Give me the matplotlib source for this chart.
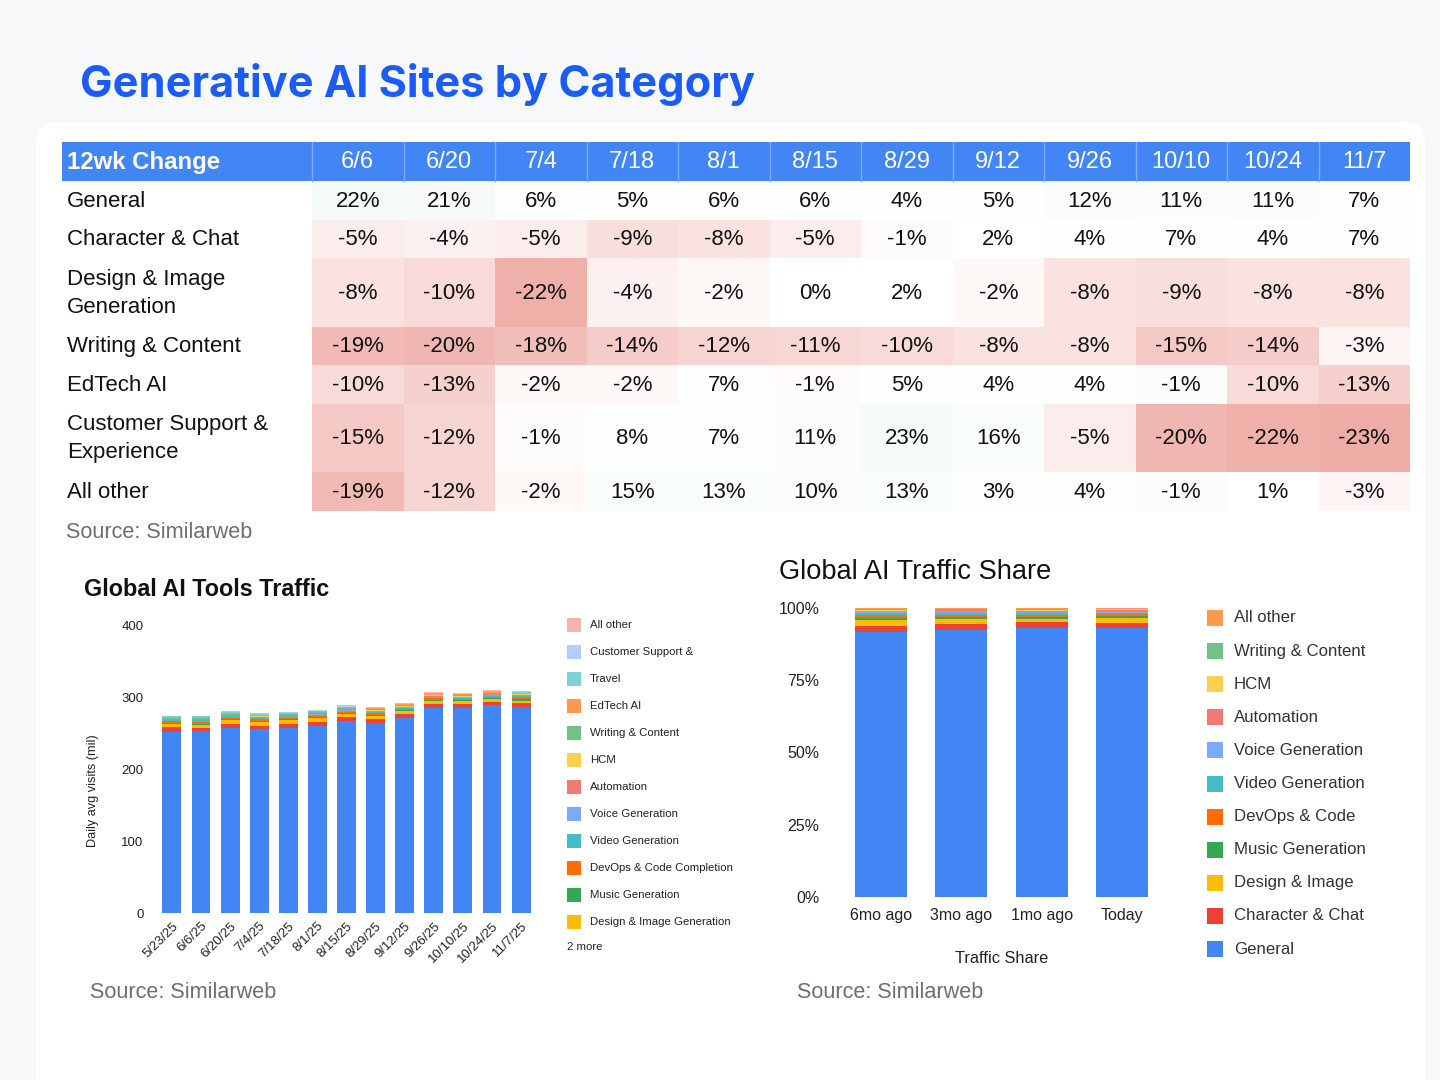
import matplotlib
matplotlib.use('Agg')
import matplotlib.pyplot as plt
from matplotlib.patches import Rectangle, FancyBboxPatch
import numpy as np

plt.rcParams['font.family'] = ['Liberation Sans', 'DejaVu Sans']

# ---------------- Data ----------------
table_dates = ['6/6', '6/20', '7/4', '7/18', '8/1', '8/15', '8/29', '9/12', '9/26', '10/10', '10/24', '11/7']
table_labels = ['General', 'Character & Chat', 'Design & Image\nGeneration', 'Writing & Content',
                'EdTech AI', 'Customer Support &\nExperience', 'All other']
chg_general = [22, 21, 6, 5, 6, 6, 4, 5, 12, 11, 11, 7]
chg_character = [-5, -4, -5, -9, -8, -5, -1, 2, 4, 7, 4, 7]
chg_design = [-8, -10, -22, -4, -2, 0, 2, -2, -8, -9, -8, -8]
chg_writing = [-19, -20, -18, -14, -12, -11, -10, -8, -8, -15, -14, -3]
chg_edtech = [-10, -13, -2, -2, 7, -1, 5, 4, 4, -1, -10, -13]
chg_customer = [-15, -12, -1, 8, 7, 11, 23, 16, -5, -20, -22, -23]
chg_other = [-19, -12, -2, 15, 13, 10, 13, 3, 4, -1, 1, -3]
table_values = [chg_general, chg_character, chg_design, chg_writing, chg_edtech, chg_customer, chg_other]

traffic_dates = ['5/23/25', '6/6/25', '6/20/25', '7/4/25', '7/18/25', '8/1/25', '8/15/25',
                 '8/29/25', '9/12/25', '9/26/25', '10/10/25', '10/24/25', '11/7/25']
tr_general = [252, 253, 257, 255, 257, 260, 266, 264, 271, 285, 285, 289, 286]
tr_character = [6.0, 4.5, 6.0, 4.5, 6.0, 5.5, 6.0, 6.0, 5.5, 5.0, 5.0, 4.0, 5.0]
tr_design = [4.5, 4.0, 4.5, 5.5, 5.0, 5.0, 4.0, 4.0, 4.0, 4.0, 4.0, 4.0, 4.0]
tr_music = [1.5, 1.5, 2.0, 1.5, 1.5, 1.5, 1.5, 1.5, 1.5, 1.5, 1.5, 2.0, 2.5]
tr_devops = [2.0, 2.0, 2.0, 2.5, 2.0, 2.0, 2.0, 2.0, 1.5, 2.5, 2.0, 1.5, 2.0]
tr_video = [1.5, 2.5, 1.5, 1.5, 1.5, 1.5, 1.5, 1.5, 1.5, 1.5, 1.0, 1.5, 1.5]
tr_voice = [1.0, 1.0, 1.0, 1.0, 1.0, 1.0, 1.0, 1.0, 1.0, 1.0, 1.0, 1.0, 1.0]
tr_automation = [0.8, 0.8, 0.8, 0.8, 0.8, 0.8, 0.8, 0.8, 0.8, 0.8, 0.8, 0.8, 0.8]
tr_hcm = [0.8, 0.8, 0.8, 0.8, 0.8, 0.8, 0.8, 0.8, 0.8, 0.8, 0.8, 0.8, 0.8]
tr_writing = [1.2, 1.2, 1.2, 1.2, 1.0, 1.2, 1.2, 1.2, 1.0, 1.2, 1.2, 1.2, 1.2]
tr_edtech = [1.2, 1.2, 1.5, 1.2, 1.0, 1.2, 1.5, 1.5, 1.0, 1.5, 1.5, 1.5, 1.2]
tr_travel = [0.5, 0.5, 0.5, 0.5, 0.5, 0.5, 0.5, 0.5, 0.5, 0.5, 0.5, 0.5, 0.5]
tr_customer = [0.4, 0.4, 0.4, 0.4, 0.4, 0.4, 0.4, 0.4, 0.4, 0.4, 0.4, 0.4, 0.4]
tr_other = [0.8, 0.8, 1.2, 0.8, 0.8, 0.8, 1.2, 1.2, 0.8, 1.5, 1.0, 1.5, 1.5]
traffic_names = ['General', 'Character & Chat', 'Design & Image Generation', 'Music Generation',
                 'DevOps & Code Completion', 'Video Generation', 'Voice Generation', 'Automation',
                 'HCM', 'Writing & Content', 'EdTech AI', 'Travel', 'Customer Support &', 'All other']
traffic_series = [tr_general, tr_character, tr_design, tr_music, tr_devops, tr_video, tr_voice,
                  tr_automation, tr_hcm, tr_writing, tr_edtech, tr_travel, tr_customer, tr_other]

share_periods = ['6mo ago', '3mo ago', '1mo ago', 'Today']
sh_general = [91.6, 92.5, 93.1, 93.1]
sh_character = [2.3, 1.8, 1.9, 1.8]
sh_design = [1.8, 1.9, 1.2, 1.6]
sh_music = [0.9, 0.6, 0.8, 0.8]
sh_devops = [0.9, 0.8, 0.7, 0.7]
sh_video = [0.8, 0.8, 0.5, 0.4]
sh_voice = [0.5, 0.5, 0.4, 0.4]
sh_automation = [0.3, 0.3, 0.4, 0.4]
sh_hcm = [0.3, 0.2, 0.3, 0.3]
sh_writing = [0.3, 0.3, 0.4, 0.3]
sh_other = [0.3, 0.3, 0.3, 0.2]
share_names = ['General', 'Character & Chat', 'Design & Image', 'Music Generation', 'DevOps & Code',
               'Video Generation', 'Voice Generation', 'Automation', 'HCM', 'Writing & Content', 'All other']
share_series = [sh_general, sh_character, sh_design, sh_music, sh_devops, sh_video, sh_voice,
                sh_automation, sh_hcm, sh_writing, sh_other]

palette = ['#4285F4', '#EA4335', '#FBBC04', '#34A853', '#FF6D01', '#46BDC6', '#7BAAF7',
           '#F07B72', '#FCD04F', '#71C287', '#FF994D', '#7ED1D7', '#B3CEFB', '#F7B4AE']

# ---------------- Figure ----------------
W, H = 1440, 1080
fig = plt.figure(figsize=(14.4, 10.8), dpi=100)
fig.patch.set_facecolor('#f7f8fa')

bg = fig.add_axes([0, 0, 1, 1], zorder=0)
bg.set_xlim(0, W)
bg.set_ylim(H, 0)
bg.axis('off')

bg.add_patch(FancyBboxPatch((36, 122), 1425 - 36, 1100 - 122,
                            boxstyle='round,pad=0,rounding_size=22',
                            facecolor='white', edgecolor='none'))

bg.text(80, 84, 'Generative AI Sites by Category', fontsize=31.2, fontweight='bold',
        color='#1a5cf5', va='center', ha='left', family=['Inter', 'DejaVu Sans'])

# ---------------- Table ----------------
tx0, tx1 = 62, 1410
first_w = 250
col_w = (tx1 - tx0 - first_w) / len(table_dates)
head_top, head_h = 142, 39
single_h, double_h = 38.5, 68.5


def cell_color(v):
    if v < 0:
        t = min(-v / 23.0, 1.0)
        end = np.array([238, 172, 166]) / 255
    else:
        t = min(v / 23.0, 1.0)
        end = np.array([245, 251, 248]) / 255
    return tuple(np.ones(3) * (1 - t) + end * t)


# header
bg.add_patch(Rectangle((tx0, head_top), tx1 - tx0, head_h, facecolor='#4285F4', edgecolor='none'))
bg.text(tx0 + 5, head_top + head_h / 2 + 1, '12wk Change', fontsize=17.3, fontweight='bold',
        color='white', va='center', ha='left')
for j, d in enumerate(table_dates):
    x = tx0 + first_w + j * col_w
    bg.plot([x, x], [head_top, head_top + head_h], color='#7eaaf7', lw=1)
    bg.text(x + col_w / 2, head_top + head_h / 2 + 1, d, fontsize=17, color='white',
            va='center', ha='center')

y = head_top + head_h
for label, vals in zip(table_labels, table_values):
    h = double_h if '\n' in label else single_h
    bg.text(tx0 + 5, y + h / 2 + 1, label, fontsize=16, color='#111111', va='center',
            ha='left', linespacing=1.45)
    for j, v in enumerate(vals):
        x = tx0 + first_w + j * col_w
        bg.add_patch(Rectangle((x, y), col_w, h, facecolor=cell_color(v), edgecolor='none'))
        bg.text(x + col_w / 2, y + h / 2 + 1, f'{v}%', fontsize=16, color='#111111',
                va='center', ha='center')
    y += h

bg.text(66, 532, 'Source: Similarweb', fontsize=15.6, color='#6e6e6e', va='center', ha='left')

# ---------------- Left chart ----------------
ax1 = fig.add_axes([154.5 / W, 1 - 913 / H, 384 / W, 288 / H], zorder=2)
ax1.patch.set_alpha(0)
xi = np.arange(len(traffic_dates))
bottom = np.zeros(len(traffic_dates))
for vals, col in zip(traffic_series, palette):
    ax1.bar(xi, vals, 0.65, bottom=bottom, color=col, edgecolor='none')
    bottom += np.array(vals)
ax1.set_xlim(-0.6, len(traffic_dates) - 0.4)
ax1.set_ylim(0, 400)
ax1.set_yticks([0, 100, 200, 300, 400])
ax1.set_xticks(xi)
ax1.set_xticklabels(traffic_dates, rotation=45, ha='right', rotation_mode='anchor')
ax1.tick_params(length=0, labelsize=9.5, colors='#222222')
ax1.tick_params(axis='y', pad=8)
ax1.tick_params(axis='x', pad=5)
for s in ax1.spines.values():
    s.set_visible(False)
ax1.set_ylabel('Daily avg visits (mil)', fontsize=9.2, color='#222222')
ax1.yaxis.set_label_coords(-0.145, 0.424)

bg.text(84, 589, 'Global AI Tools Traffic', fontsize=16.8, fontweight='bold', color='#111111',
        va='center', ha='left')

# left legend (reverse order, 12 shown)
shown = list(range(len(traffic_names) - 1, 1, -1))
for k, idx in enumerate(shown):
    yy = 625 + 27 * k
    bg.add_patch(Rectangle((567, yy - 7), 14, 14, facecolor=palette[idx], edgecolor='none'))
    bg.text(590, yy, traffic_names[idx], fontsize=8.2, color='#222222', va='center', ha='left')
bg.text(567, 947, f'{len(traffic_names) - len(shown)} more', fontsize=8.2, color='#222222',
        va='center', ha='left')

bg.text(90, 992, 'Source: Similarweb', fontsize=15.6, color='#6e6e6e', va='center', ha='left')

# ---------------- Right chart ----------------
ax2 = fig.add_axes([821 / W, 1 - 897 / H, 361 / W, 289 / H], zorder=2)
ax2.patch.set_alpha(0)
xs = np.arange(len(share_periods))
bottom = np.zeros(len(share_periods))
for vals, col in zip(share_series, palette):
    ax2.bar(xs, vals, 0.65, bottom=bottom, color=col, edgecolor='none')
    bottom += np.array(vals)
ax2.set_xlim(-0.75, len(share_periods) - 0.25)
ax2.set_ylim(0, 100)
ax2.set_yticks([0, 25, 50, 75, 100])
ax2.set_yticklabels(['0%', '25%', '50%', '75%', '100%'])
ax2.set_xticks(xs)
ax2.set_xticklabels(share_periods)
ax2.tick_params(length=0, labelsize=11.5, colors='#222222')
ax2.tick_params(axis='y', pad=1)
ax2.tick_params(axis='x', pad=8)
for s in ax2.spines.values():
    s.set_visible(False)
ax2.set_xlabel('Traffic Share', fontsize=11.8, color='#222222', labelpad=20)

bg.text(779, 572, 'Global AI Traffic Share', fontsize=19.6, color='#111111', va='center', ha='left')

for k, idx in enumerate(range(len(share_names) - 1, -1, -1)):
    yy = 618 + 33.1 * k
    bg.add_patch(Rectangle((1207, yy - 8), 16, 16, facecolor=palette[idx], edgecolor='none'))
    bg.text(1234, yy, share_names[idx], fontsize=12.1, color='#333333', va='center', ha='left')

bg.text(797, 992, 'Source: Similarweb', fontsize=15.6, color='#6e6e6e', va='center', ha='left')

fig.savefig('out.png', dpi=100, facecolor=fig.get_facecolor())
